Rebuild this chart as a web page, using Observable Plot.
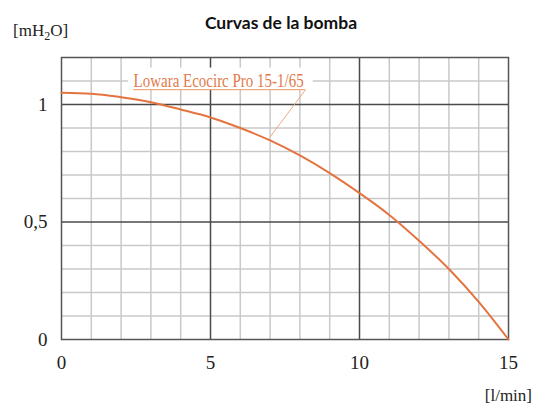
<!DOCTYPE html>
<html><head><meta charset="utf-8">
<script src="https://cdn.jsdelivr.net/npm/d3@7"></script>
<script src="https://cdn.jsdelivr.net/npm/@observablehq/plot@0.6"></script>
<style>
body{margin:0;background:#fff}
#chart{position:relative;width:534px;height:408px}
.ov{position:absolute;white-space:nowrap;line-height:1}
#title{left:0;width:562px;top:14px;text-align:center;font-family:Lato,"Open Sans",sans-serif;font-weight:bold;font-size:17.5px;color:#111}
#yunit{left:13px;top:22px;font-family:"Liberation Serif",serif;font-size:17px;color:#222}
#yunit sub{font-size:12px;vertical-align:-4px}
#xunit{right:2px;top:387px;font-family:"Liberation Serif",serif;font-size:17px;color:#222}
</style>
</head><body>
<div id="chart">
<div class="ov" id="title">Curvas de la bomba</div>
<div class="ov" id="yunit">[mH<sub>2</sub>O]</div>
<div class="ov" id="xunit">[l/min]</div>
</div>
<script>
// Data
const flow = [0, 1, 2, 3, 4, 5, 6, 7, 8, 9, 10, 11, 12, 13, 14, 15];           // l/min
const head = [1.05, 1.046, 1.031, 1.01, 0.979, 0.945, 0.90, 0.847, 0.783, 0.708, 0.623, 0.53, 0.42, 0.30, 0.16, 0]; // mH2O
const xTicks = [0, 5, 10, 15];
const yTicks = [0, 0.5, 1];
const xMinor = [1, 2, 3, 4, 6, 7, 8, 9, 11, 12, 13, 14];
const yMinor = [0.1, 0.2, 0.3, 0.4, 0.6, 0.7, 0.8, 0.9, 1.1];
const xMajor = [5, 10];
const yMajor = [0.5, 1];
const seriesName = "Lowara Ecocirc Pro 15-1/65";
const labelPos = [{x: 2.42, y: 1.074, ux1: 2.42, ux2: 8.19, uy: 1.063, lx: 7.0, ly: 0.862,
                   bx1: 2.25, bx2: 8.45, by1: 1.06, by2: 1.155}];

const data = flow.map((f, i) => ({flow: f, head: head[i]}));
const orange = "#e4743f";

const plot = Plot.plot({
  width: 534, height: 408,
  marginLeft: 61, marginRight: 26, marginTop: 57, marginBottom: 69,
  style: {fontFamily: "'Liberation Serif', serif", fontSize: "19px", color: "#222", background: "white"},
  x: {domain: [0, 15], ticks: xTicks, tickSize: 0, tickPadding: 16, label: null},
  y: {domain: [0, 1.2], ticks: yTicks, tickSize: 0, tickPadding: 14, label: null,
      tickFormat: d => String(d).replace(".", ",")},
  marks: [
    Plot.ruleX(xMinor, {stroke: "#c9c9c9", strokeWidth: 1.5}),
    Plot.ruleY(yMinor, {stroke: "#c9c9c9", strokeWidth: 1.5}),
    Plot.ruleX(xMajor, {stroke: "#4a4a4a", strokeWidth: 1.5}),
    Plot.ruleY(yMajor, {stroke: "#4a4a4a", strokeWidth: 1.5}),
    Plot.frame({stroke: "#555", strokeWidth: 1.5}),
    Plot.rect(labelPos, {x1: "bx1", x2: "bx2", y1: "by1", y2: "by2", fill: "white"}),
    Plot.line(data, {x: "flow", y: "head", stroke: orange, strokeWidth: 2, curve: "monotone-x"}),
    Plot.ruleY(labelPos, {y: "uy", x1: "ux1", x2: "ux2", stroke: "#e8956b", strokeWidth: 1}),
    Plot.link(labelPos, {x1: "ux2", y1: "uy", x2: "lx", y2: "ly", stroke: "#f0a882", strokeWidth: 1}),
    Plot.text(labelPos, {x: "x", y: "y", text: () => seriesName, textAnchor: "start", lineAnchor: "bottom",
      fill: "#e07a4c", fontSize: 19.5, fontFamily: "'Liberation Serif', serif"})
  ]
});
document.getElementById("chart").prepend(plot);
d3.select(plot).selectAll("text")
  .filter(function() { return this.textContent === seriesName; })
  .attr("textLength", 170).attr("lengthAdjust", "spacingAndGlyphs");
</script>
</body></html>
